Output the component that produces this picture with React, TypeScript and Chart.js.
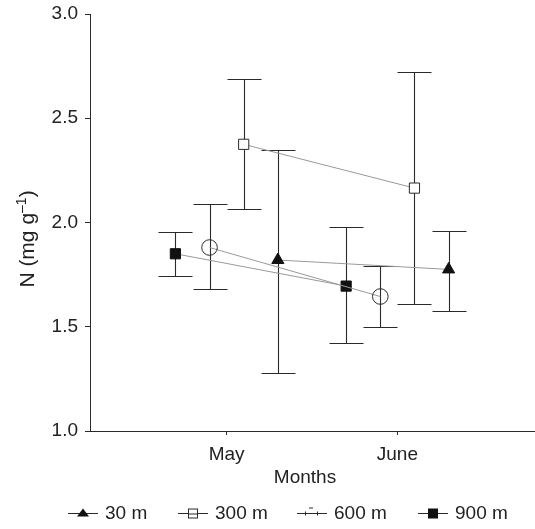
import React, { useEffect, useRef } from 'react';
import { Chart, registerables } from 'chart.js';

Chart.register(...registerables);

// ---- data ----
const months = ['May', 'June'];
const depths = ['30 m', '300 m', '600 m', '900 m'];

const mean30 = [1.82, 1.775];
const upper30 = [2.35, 1.96];
const lower30 = [1.28, 1.575];

const mean300 = [2.375, 2.165];
const upper300 = [2.69, 2.72];
const lower300 = [2.065, 1.61];

const mean600 = [1.88, 1.645];
const upper600 = [2.09, 1.79];
const lower600 = [1.68, 1.50];

const mean900 = [1.85, 1.695];
const upper900 = [1.955, 1.98];
const lower900 = [1.745, 1.42];

const yTicks = [1.0, 1.5, 2.0, 2.5, 3.0];

const means = [mean30, mean300, mean600, mean900];
const uppers = [upper30, upper300, upper600, upper900];
const lowers = [lower30, lower300, lower600, lower900];

// horizontal dodge of each depth around its month
const dodge = [0.3, 0.1, -0.1, -0.3];

const FONT = "'Liberation Sans', Arial, Helvetica, sans-serif";
const TEXT = '#222';
const AXIS = '#2a2a2a';
const LINE = '#999';

type Style = { pointStyle: any; radius: number; fill: string };
const styles: Style[] = [
  { pointStyle: 'triangle', radius: 7, fill: '#111' },
  { pointStyle: 'rect', radius: 7.2, fill: '#fff' },
  { pointStyle: 'circle', radius: 7.8, fill: 'rgba(0,0,0,0)' },
  { pointStyle: 'rect', radius: 7.2, fill: '#111' },
];

const errorBars = {
  id: 'errorBars',
  beforeDatasetsDraw(chart: any) {
    const { ctx, scales } = chart;
    const xs = scales.x;
    const ys = scales.y;
    ctx.save();
    ctx.strokeStyle = AXIS;
    ctx.lineWidth = 1.1;
    const cap = 17;
    depths.forEach((_, d) => {
      months.forEach((__, i) => {
        const x = Math.round(xs.getPixelForValue(i + 1 + dodge[d])) + 0.5;
        const yh = Math.round(ys.getPixelForValue(uppers[d][i])) + 0.5;
        const yl = Math.round(ys.getPixelForValue(lowers[d][i])) + 0.5;
        ctx.beginPath();
        ctx.moveTo(x, yh);
        ctx.lineTo(x, yl);
        ctx.moveTo(x - cap, yh);
        ctx.lineTo(x + cap, yh);
        ctx.moveTo(x - cap, yl);
        ctx.lineTo(x + cap, yl);
        ctx.stroke();
      });
    });
    ctx.restore();
  },
};

function drawMarker(ctx: CanvasRenderingContext2D, d: number, x: number, y: number) {
  ctx.save();
  ctx.strokeStyle = AXIS;
  ctx.lineWidth = 1;
  if (d === 0) {
    ctx.fillStyle = '#111';
    ctx.beginPath();
    ctx.moveTo(x, y - 5);
    ctx.lineTo(x + 6, y + 3);
    ctx.lineTo(x - 6, y + 3);
    ctx.closePath();
    ctx.fill();
  } else if (d === 1) {
    ctx.fillStyle = '#fff';
    ctx.fillRect(x - 5, y - 5, 10, 10);
    ctx.strokeRect(x - 4.5, y - 4.5, 9, 9);
    ctx.beginPath();
    ctx.moveTo(x - 4.5, y + 0.5);
    ctx.lineTo(x + 4.5, y + 0.5);
    ctx.stroke();
  } else if (d === 2) {
    ctx.beginPath();
    ctx.moveTo(x - 3, y - 5.5);
    ctx.lineTo(x + 1, y - 5.5);
    ctx.moveTo(x - 6.5, y - 2);
    ctx.lineTo(x - 6.5, y + 2);
    ctx.moveTo(x + 5.5, y - 2);
    ctx.lineTo(x + 5.5, y + 2);
    ctx.stroke();
  } else {
    ctx.fillStyle = '#111';
    ctx.fillRect(x - 5, y - 5, 10, 10);
  }
  ctx.restore();
}

const textPlugin = {
  id: 'textPlugin',
  afterDraw(chart: any) {
    const { ctx } = chart;
    ctx.save();
    ctx.fillStyle = TEXT;
    // x title
    ctx.font = `19px ${FONT}`;
    ctx.textAlign = 'center';
    ctx.textBaseline = 'alphabetic';
    ctx.fillText('Months', 305, 483);

    // y title (rotated), with superscript
    ctx.save();
    ctx.translate(34, 239);
    ctx.rotate(-Math.PI / 2);
    const main = 'N (mg g';
    const sup = '\u20131';
    const close = ')';
    ctx.font = `21px ${FONT}`;
    const w1 = ctx.measureText(main).width;
    const w3 = ctx.measureText(close).width;
    ctx.font = `14px ${FONT}`;
    const w2 = ctx.measureText(sup).width;
    const total = w1 + w2 + w3;
    let cx = -total / 2;
    ctx.textAlign = 'left';
    ctx.font = `21px ${FONT}`;
    ctx.fillText(main, cx, 0);
    cx += w1;
    ctx.font = `14px ${FONT}`;
    ctx.fillText(sup, cx, -8);
    cx += w2;
    ctx.font = `21px ${FONT}`;
    ctx.fillText(close, cx, 0);
    ctx.restore();

    // legend
    const starts = [68, 178, 297, 418];
    const ly = 513.5;
    depths.forEach((label, d) => {
      const x0 = starts[d];
      ctx.strokeStyle = AXIS;
      ctx.lineWidth = 1;
      ctx.beginPath();
      ctx.moveTo(x0, ly);
      ctx.lineTo(x0 + 30, ly);
      ctx.stroke();
      drawMarker(ctx, d, x0 + 15, ly);
      ctx.fillStyle = TEXT;
      ctx.font = `19px ${FONT}`;
      ctx.textAlign = 'left';
      ctx.textBaseline = 'middle';
      ctx.fillText(label, x0 + 37, ly);
    });
    ctx.restore();
  },
};

export default function App() {
  const ref = useRef<HTMLCanvasElement | null>(null);
  useEffect(() => {
    if (!ref.current) return;
    Chart.defaults.font.family = FONT;
    const datasets = depths.map((label, d) => ({
      label,
      data: months.map((_, i) => ({ x: i + 1 + dodge[d], y: means[d][i] })),
      showLine: true,
      borderColor: LINE,
      borderWidth: 1,
      pointStyle: styles[d].pointStyle,
      pointRadius: styles[d].radius,
      pointHoverRadius: styles[d].radius,
      pointBackgroundColor: styles[d].fill,
      pointBorderColor: d === 0 || d === 3 ? '#111' : AXIS,
      pointBorderWidth: 1,
      clip: false as any,
    }));
    const chart = new Chart(ref.current, {
      type: 'scatter',
      data: { datasets },
      options: {
        responsive: false,
        animation: false,
        layout: { autoPadding: false, padding: { top: 14, right: 1, left: 0, bottom: 0 } },
        plugins: { legend: { display: false }, tooltip: { enabled: false } },
        scales: {
          x: {
            type: 'linear',
            min: 0.2,
            max: 2.8,
            afterFit: (s: any) => {
              s.height = 98;
              s.paddingLeft = 0;
              s.paddingRight = 0;
            },
            afterBuildTicks: (s: any) => { s.ticks = months.map((_, i) => ({ value: i + 1 })); },
            ticks: {
              callback: (v: any, i: number) => months[i],
              font: { size: 19, family: FONT },
              color: TEXT,
              padding: 8,
              maxRotation: 0,
            },
            grid: { display: true, drawOnChartArea: false, drawTicks: true, tickLength: 4, color: AXIS },
            border: { display: true, color: AXIS, width: 1 },
          },
          y: {
            type: 'linear',
            min: 1,
            max: 3,
            afterFit: (s: any) => {
              s.width = 90;
              s.paddingTop = 0;
              s.paddingBottom = 0;
            },
            afterBuildTicks: (s: any) => { s.ticks = yTicks.map((v) => ({ value: v })); },
            ticks: {
              callback: (v: any) => Number(v).toFixed(1),
              font: { size: 19, family: FONT },
              color: TEXT,
              padding: 7,
            },
            grid: { display: true, drawOnChartArea: false, drawTicks: true, tickLength: 5, color: AXIS },
            border: { display: true, color: AXIS, width: 1 },
          },
        },
      },
      plugins: [errorBars, textPlugin],
    });
    return () => chart.destroy();
  }, []);
  return (
    <div style={{ position: 'absolute', left: 0, top: 0, width: 535, height: 529, background: '#fff' }}>
      <canvas ref={ref} width={535} height={529} />
    </div>
  );
}
